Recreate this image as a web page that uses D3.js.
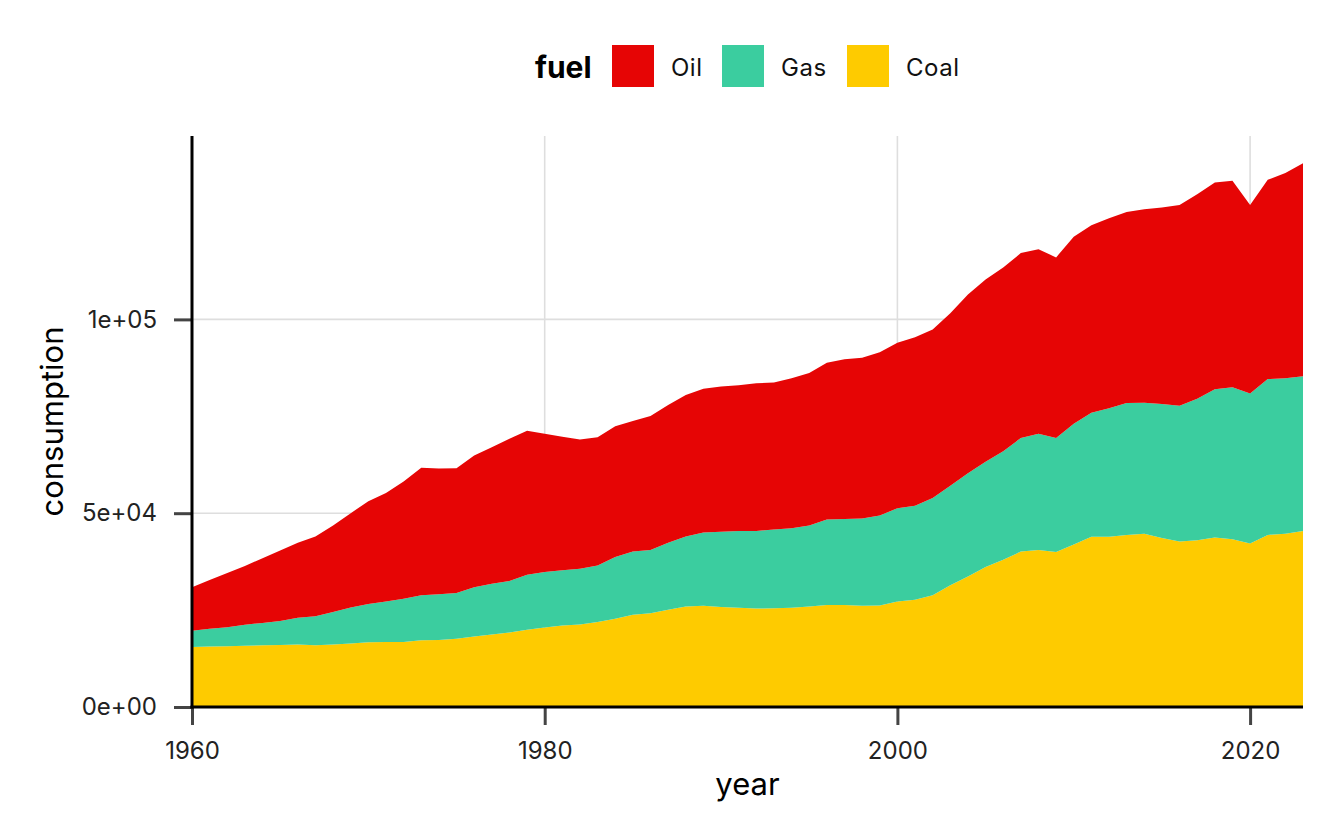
<!DOCTYPE html>
<html>
<head>
<meta charset="utf-8">
<script src="https://cdn.jsdelivr.net/npm/d3@7"></script>
<style>
  body { margin: 0; background: #fff; }
  #plot { width: 1344px; height: 830px; }
  text { font-family: Inter, "Noto Sans", sans-serif; }
</style>
</head>
<body>
<div id="plot"></div>
<script>
// data
const years = d3.range(1960, 2024);
const fuels = ["Coal", "Gas", "Oil"];          // stacking order, bottom to top
const legendOrder = ["Oil", "Gas", "Coal"];
const colors = {Oil: "#e60505", Gas: "#3bcd9f", Coal: "#fecb00"};

const coal = [15500,15600,15700,15800,15900,16000,16100,15900,16100,16400,
              16700,16800,16800,17200,17300,17600,18200,18700,19200,19900,
              20500,21000,21300,21900,22800,23800,24200,25100,25900,26100,
              25800,25600,25400,25500,25600,25900,26300,26300,26100,26200,
              27200,27700,28800,31400,33700,36100,38000,40100,40500,40000,
              41900,43900,43900,44400,44700,43600,42700,43000,43700,43300,
              42200,44400,44700,45400];
const gas = [4200,4600,4900,5400,5800,6200,6900,7500,8400,9300,
             9900,10400,11100,11600,11800,11800,12700,13100,13300,14200,
             14300,14300,14400,14600,15900,16300,16300,17300,18100,18900,
             19400,19800,20000,20300,20500,20900,22100,22200,22500,23200,
             24100,24200,25100,25700,26600,27200,28000,29300,30000,29400,
             31200,32000,33200,34000,33800,34600,35000,36500,38300,39200,
             38700,40200,40100,39900];
const oil = [11200,12550,14000,15200,16700,18200,19400,20600,22300,24300,
             26500,28000,30300,32900,32400,32200,34000,35200,36700,37200,
             35700,34400,33300,33100,33700,33700,34600,35500,36500,37100,
             37500,37600,38100,37900,38700,39400,40400,41200,41500,42100,
             42700,43500,43500,44500,46100,47000,47400,47700,47600,46600,
             48200,48400,49000,49300,49900,50700,51800,52800,53300,53300,
             48600,51400,53000,55000];

const xTicks = [1960, 1980, 2000, 2020];
const yTicks = [0, 50000, 100000];

const table = years.map((y, i) => ({year: y, Coal: coal[i], Gas: gas[i], Oil: oil[i]}));

// layout
const W = 1344, H = 830;
const margin = {top: 136, right: 41, bottom: 123, left: 192};
const width = W - margin.left - margin.right,
      height = H - margin.top - margin.bottom;

const svg = d3.select("#plot").append("svg")
    .attr("width", W).attr("height", H);
const g = svg.append("g")
    .attr("transform", "translate(" + margin.left + "," + margin.top + ")");

const series = d3.stack().keys(fuels)(table);
const maxTotal = d3.max(series[series.length - 1], d => d[1]);

const x = d3.scaleLinear().domain([1960, 2023]).range([0, width]);
const y = d3.scaleLinear().domain([0, maxTotal * 1.05]).range([height, 0]);

// grid
g.append("g").selectAll("line.gx").data(xTicks.slice(1))
  .enter().append("line")
    .attr("x1", d => x(d)).attr("x2", d => x(d))
    .attr("y1", 0).attr("y2", height)
    .attr("stroke", "#dedede").attr("stroke-width", 1.6);
g.append("g").selectAll("line.gy").data(yTicks.slice(1))
  .enter().append("line")
    .attr("x1", 0).attr("x2", width)
    .attr("y1", d => y(d)).attr("y2", d => y(d))
    .attr("stroke", "#dedede").attr("stroke-width", 1.6);

// areas
const area = d3.area()
    .x(d => x(d.data.year))
    .y0(d => y(d[0]))
    .y1(d => y(d[1]));
g.append("g").selectAll("path")
  .data(series)
  .enter().append("path")
    .attr("fill", d => colors[d.key])
    .attr("d", area);

// y tick format like 5e+04
const sci = v => d3.format(".0e")(v).replace(/e([+-])(\d)$/, "e$10$2");

// axes
const xAxis = g.append("g")
    .attr("transform", "translate(0," + height + ")")
    .call(d3.axisBottom(x).tickValues(xTicks).tickFormat(d3.format("d")).tickSize(18).tickPadding(17));
const yAxis = g.append("g")
    .call(d3.axisLeft(y).tickValues(yTicks).tickFormat(sci).tickSize(18).tickPadding(17));

[xAxis, yAxis].forEach(a => {
  a.select(".domain").remove();
  a.selectAll(".tick line").attr("stroke", "#444").attr("stroke-width", 3);
  a.selectAll(".tick text").attr("fill", "#222").style("font-size", "24px");
});

g.append("line")
    .attr("x1", 0).attr("x2", 0).attr("y1", 0).attr("y2", height + 1.5)
    .attr("stroke", "#000").attr("stroke-width", 3);
g.append("line")
    .attr("x1", -1.5).attr("x2", width).attr("y1", height).attr("y2", height)
    .attr("stroke", "#000").attr("stroke-width", 3);

// axis titles
svg.append("text")
    .attr("x", margin.left + width / 2).attr("y", 795)
    .attr("text-anchor", "middle")
    .style("font-size", "31px").attr("fill", "#000")
    .text("year");
svg.append("text")
    .attr("transform", "translate(63," + (margin.top + height / 2) + ") rotate(-90)")
    .attr("text-anchor", "middle")
    .style("font-size", "31px").attr("fill", "#000")
    .text("consumption");

// legend
const legend = svg.append("g");
legend.append("text")
    .attr("x", 535).attr("y", 78)
    .style("font-size", "30px").style("font-weight", "bold")
    .text("fuel");
const keyX = {Oil: 612, Gas: 722, Coal: 847};
legendOrder.forEach(f => {
  legend.append("rect")
      .attr("x", keyX[f]).attr("y", 45)
      .attr("width", 42).attr("height", 42)
      .attr("fill", colors[f]);
  legend.append("text")
      .attr("x", keyX[f] + 59).attr("y", 76)
      .style("font-size", "24px").style("letter-spacing", "0.5px")
      .attr("fill", "#111")
      .text(f);
});
</script>
</body>
</html>
